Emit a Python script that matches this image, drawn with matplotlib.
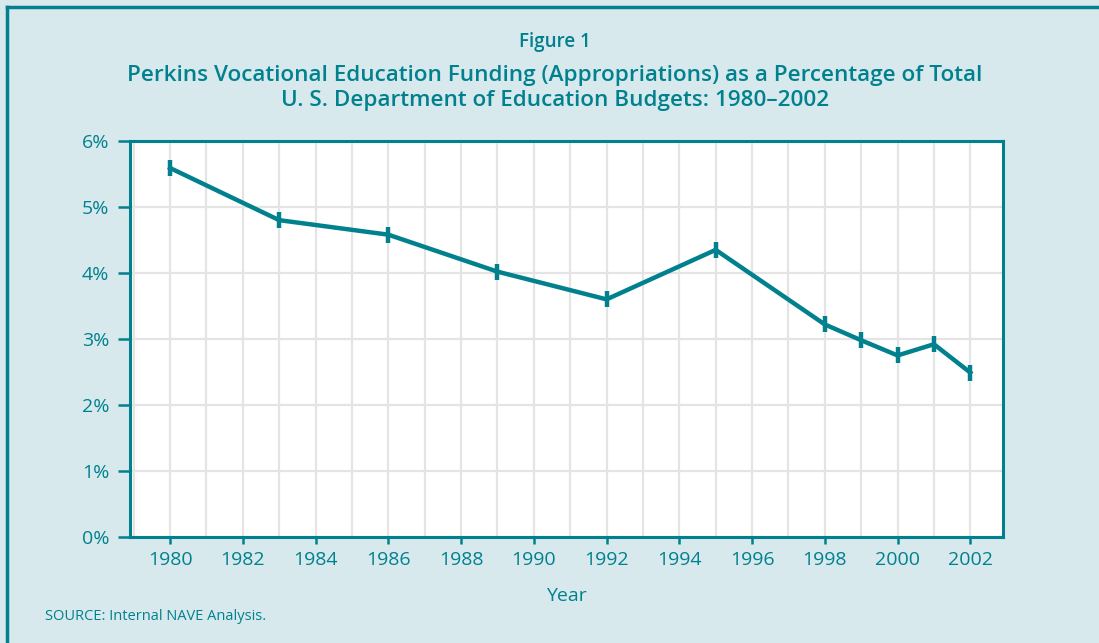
import numpy as np
import matplotlib.pyplot as plt
from matplotlib.ticker import MultipleLocator, FuncFormatter
from matplotlib.lines import Line2D

years = [1980, 1983, 1986, 1989, 1992, 1995, 1998, 1999, 2000, 2001, 2002]
pct = [5.59, 4.80, 4.58, 4.02, 3.60, 4.35, 3.22, 2.98, 2.75, 2.92, 2.49]

title_fig = "Figure 1"
title_main = ("Perkins Vocational Education Funding (Appropriations) as a Percentage of Total\n"
              "U. S. Department of Education Budgets: 1980\u20132002")
source = "SOURCE: Internal NAVE Analysis."

TEAL = "#00818d"
BG = "#d7e9ed"
GRID = "#e4e4e4"

plt.rcParams['font.family'] = ['Open Sans', 'DejaVu Sans']

fig = plt.figure(figsize=(10.99, 6.43), dpi=100, facecolor=BG)
ax = fig.add_axes([0.1183, 0.1649, 0.7944, 0.6159])
ax.set_facecolor("white")

ax.plot(years, pct, color=TEAL, lw=3.2, marker='|', ms=12, mew=3.2, zorder=3)

ax.set_xlim(1978.9, 2002.9)
ax.set_ylim(0, 6)
ax.xaxis.set_major_locator(MultipleLocator(2))
ax.xaxis.set_minor_locator(MultipleLocator(1))
ax.yaxis.set_major_locator(MultipleLocator(1))
ax.yaxis.set_major_formatter(FuncFormatter(lambda v, p: f"{int(v)}%"))

ax.grid(True, which='both', axis='x', color=GRID, lw=1.6)
ax.grid(True, which='major', axis='y', color=GRID, lw=1.6)
ax.set_axisbelow(True)

for s in ax.spines.values():
    s.set_color(TEAL)
    s.set_linewidth(2.2)

ax.tick_params(axis='x', which='major', direction='out', length=5, width=1.8,
               color=TEAL, labelcolor=TEAL, labelsize=14, pad=5)
ax.tick_params(axis='x', which='minor', length=0)
ax.tick_params(axis='y', direction='out', length=9, width=1.8,
               color=TEAL, labelcolor=TEAL, labelsize=14, pad=6)

ax.set_xlabel("Year", color=TEAL, fontsize=14, labelpad=13)

fig.text(0.505, 0.934, title_fig, ha='center', va='center', color=TEAL,
         fontsize=13.5, fontweight='semibold')
fig.text(0.505, 0.863, title_main, ha='center', va='center', color=TEAL,
         fontsize=16.2, fontweight='semibold', linespacing=1.2)
fig.text(0.041, 0.041, source, ha='left', va='center', color=TEAL, fontsize=10.5)

# outer frame (top and left edges visible)
fig.add_artist(Line2D([0.0065, 0.0065], [0, 0.989], color=TEAL, lw=2.5,
                      transform=fig.transFigure))
fig.add_artist(Line2D([0.0065, 1.0], [0.989, 0.989], color=TEAL, lw=2.5,
                      transform=fig.transFigure))

fig.savefig("out.png", dpi=100, facecolor=BG)
